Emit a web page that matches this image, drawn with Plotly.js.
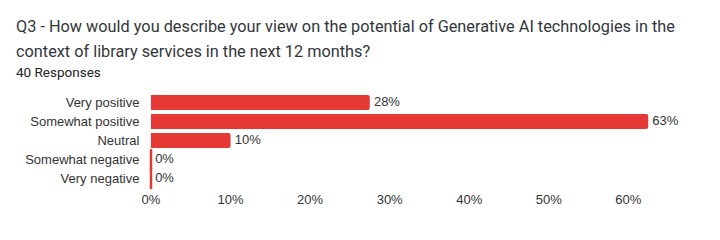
<!DOCTYPE html>
<html><head><meta charset="utf-8">
<script src="https://cdn.plot.ly/plotly-3.0.1.min.js"></script>
<style>html,body{margin:0;padding:0;background:#fff}#chart{width:720px;height:240px}</style>
</head><body><div id="chart"></div>
<script>
const categories = ["Very positive","Somewhat positive","Neutral","Somewhat negative","Very negative"];
const percents = [27.5, 62.5, 10, 0, 0];
const tickVals = [0,10,20,30,40,50,60];
const tickText = ["0%","10%","20%","30%","40%","50%","60%"];
const titleLines = ["Q3 - How would you describe your view on the potential of Generative AI technologies in the","context of library services in the next 12 months?"];
const subtitle = "40 Responses";

const red = "#e53935";
const txt = "#333333";
const zeroCats = categories.filter((c,i)=>percents[i]===0);
const zeroVals = percents.filter(v=>v===0);

const data = [
  {type:"bar", orientation:"h", y:categories, x:percents,
   marker:{color:red, cornerradius:2}, hoverinfo:"none"},
  {type:"scatter", mode:"markers", y:zeroCats, x:zeroVals,
   marker:{symbol:"line-ns", size:15, color:red, line:{color:red, width:2.5}},
   cliponaxis:false, hoverinfo:"none", showlegend:false},
  {type:"scatter", mode:"markers+text", y:categories, x:percents,
   marker:{size:5, color:"rgba(0,0,0,0)"},
   text:percents.map(v=>Math.round(v)+"%"), textposition:"middle right",
   textfont:{family:"Liberation Sans, Arial, sans-serif", size:13, color:txt},
   cliponaxis:false, hoverinfo:"none", showlegend:false}
];

const W = 541;
const layout = {
  width:720, height:240, showlegend:false,
  paper_bgcolor:"#fff", plot_bgcolor:"#fff",
  margin:{l:151, r:28, t:93, b:47},
  bargap:0.215,
  font:{family:"Liberation Sans, Arial, sans-serif", size:13, color:txt},
  xaxis:{range:[0,68], tickvals:tickVals, ticktext:tickText, showgrid:false, zeroline:false,
         showline:false, ticks:"", ticklabelstandoff:-3, tickfont:{size:13, color:txt}, fixedrange:true},
  yaxis:{autorange:"reversed", type:"category", showgrid:false, zeroline:false, showline:false,
         ticks:"outside", ticklen:8, tickcolor:"rgba(0,0,0,0)", tickfont:{size:13, color:txt}, fixedrange:true},
  annotations:[
    {xref:"paper", yref:"paper", x:(14-151)/W, y:1+(93-27)/100, xanchor:"left", yanchor:"middle", showarrow:false,
     text:titleLines[0], font:{family:"Roboto, sans-serif", size:16.3, color:"#32363a"}},
    {xref:"paper", yref:"paper", x:(14-151)/W, y:1+(93-51)/100, xanchor:"left", yanchor:"middle", showarrow:false,
     text:titleLines[1], font:{family:"Roboto, sans-serif", size:16.3, color:"#32363a"}},
    {xref:"paper", yref:"paper", x:(14-151)/W, y:1+(93-72)/100, xanchor:"left", yanchor:"middle", showarrow:false,
     text:subtitle, font:{family:"Roboto, sans-serif", size:13.5, color:"#222"}}
  ]
};
Plotly.newPlot("chart", data, layout, {displayModeBar:false, staticPlot:true});
</script></body></html>
